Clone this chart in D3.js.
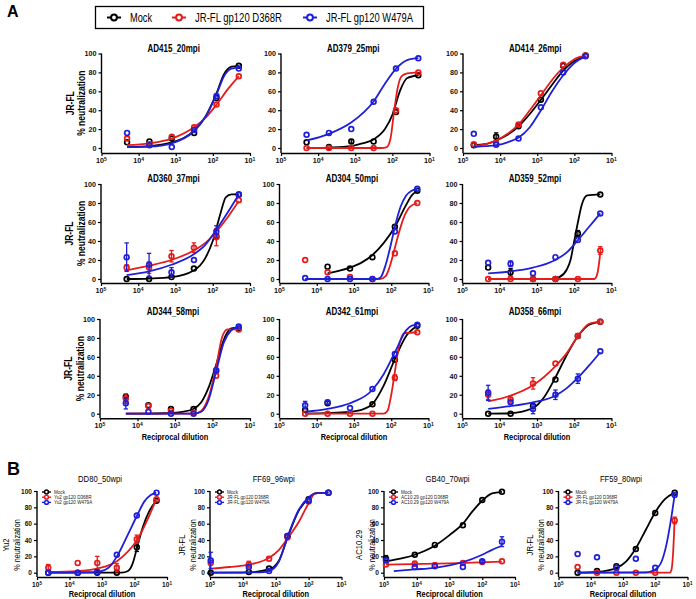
<!DOCTYPE html>
<html><head><meta charset="utf-8">
<script src="https://cdn.jsdelivr.net/npm/d3@7"></script>
<style>body{margin:0;background:#fff}svg{display:block}text{font-family:"Liberation Sans",Arial,sans-serif}</style>
</head><body><svg id="c" width="696" height="599"></svg>
<script>
// ---------- data ----------
const legendNamesA = ["Mock", "JR-FL gp120 D368R", "JR-FL gp120 W479A"];
const seriesColors = ["#000000", "#e51c1c", "#1f1fd8"];
const xTickValues = [1e5, 1e4, 1e3, 1e2, 1e1];
const yTickValues = [0, 20, 40, 60, 80, 100];
const xAxisTitle = "Reciprocal dilution";

const dosesA = [20480, 5120, 1280, 320, 80, 20];
const dosesAD414 = [51200, 12800, 3200, 800, 200, 50];
const dosesDD80 = [45000, 5600, 1400, 350, 85, 21];
const dosesFF69 = [95000, 6600, 1600, 440, 100, 25];
const dosesGB40 = [87000, 11500, 2800, 390, 100, 25];
const dosesFF59 = [25600, 6400, 1600, 400, 100, 25];

// AD415_20mpi
const ad415Mock = [6, 7, 10, 16, 53, 87];
const ad415D368R = [10, 4, 12, 22, 46, 76];
const ad415W479A = [16, 3, 1, 19, 55, 84];
const ad415MockFit = [[4.31,1],[3.71,2],[3.11,6],[2.81,10],[2.51,18],[2.2,33],[1.9,58],[1.7,78],[1.5,86],[1.3,87]];
const ad415D368RFit = [[4.31,3],[3.71,5],[3.11,10],[2.51,22],[2.2,32],[1.9,46],[1.6,62],[1.3,76]];
const ad415W479AFit = [[4.31,1],[3.71,1.5],[3.11,5],[2.51,18],[2.2,33],[1.9,57],[1.7,76],[1.5,84],[1.3,85]];
// AD379_25mpi
const ad379Mock = [6, 1, 7, 7, 38, 77];
const ad379MockErr = [0, 0, 2, 0, 0, 0];
const ad379D368R = [0, 0, 0, 0, 40, 80];
const ad379W479A = [14, 16, 20, 49, 84, 95];
const ad379MockFit = [[4.31,0],[3.71,0.5],[3.11,2],[2.8,5],[2.51,9],[2.2,20],[2.0,35],[1.8,60],[1.6,74],[1.3,77]];
const ad379D368RFit = [[4.31,0],[2.3,0],[2.15,1],[2.05,10],[1.95,40],[1.85,65],[1.75,76],[1.6,79],[1.3,80]];
const ad379W479AFit = [[4.31,8],[3.71,15],[3.11,27],[2.51,49],[2.2,68],[1.9,84],[1.6,93],[1.3,95]];
// AD414_26mpi
const ad414Mock = [3, 12, 23, 51, 87, 98];
const ad414MockErr = [0, 4, 0, 0, 0, 0];
const ad414D368R = [4, 5, 25, 58, 88, 98];
const ad414W479A = [15, 3.5, 10, 43, 80, 97];
const ad414MockFit = [[4.71,3],[4.4,4],[4.1,8],[3.8,14],[3.5,23],[3.2,36],[2.9,51],[2.6,67],[2.3,82],[2.0,92],[1.7,97]];
const ad414D368RFit = [[4.71,2],[4.4,4],[4.1,8],[3.8,15],[3.5,25],[3.2,40],[2.9,56],[2.6,72],[2.3,85],[2.0,94],[1.7,98]];
const ad414W479AFit = [[4.71,1],[4.4,2],[4.1,3],[3.8,6],[3.5,11],[3.2,22],[2.9,40],[2.6,60],[2.3,77],[2.0,90],[1.7,97]];
// AD360_37mpi
const ad360Mock = [0, 0, 2, 11, 45, 89];
const ad360D368R = [12, 12, 24, 33, 44, 83];
const ad360D368RErr = [3, 6, 6, 5, 9, 0];
const ad360W479A = [23, 15, 7, 20, 50, 89];
const ad360W479AErr = [15, 12, 5, 0, 6, 0];
const ad360MockFit = [[4.31,0],[3.71,0.5],[3.11,2],[2.51,9],[2.2,22],[2.0,40],[1.8,68],[1.65,86],[1.5,89],[1.3,89]];
const ad360D368RFit = [[4.31,9],[3.71,14],[3.11,20],[2.51,30],[2.2,38],[1.9,50],[1.6,65],[1.3,82]];
const ad360W479AFit = [[4.31,4],[3.71,8],[3.11,15],[2.51,26],[2.2,36],[1.9,52],[1.6,70],[1.3,89]];
// AD304_50mpi
const ad304Mock = [null, 13, 11, 23, 55, 93];
const ad304D368R = [20, 7, 2, 0, 27, 80];
const ad304W479A = [1, 0, 0, 0, 50, 95];
const ad304MockFit = [[3.71,6],[3.11,12],[2.81,17],[2.51,25],[2.2,38],[1.9,55],[1.6,78],[1.45,88],[1.3,93]];
const ad304D368RFit = [[4.31,0],[2.3,0],[2.15,3],[2.05,12],[1.94,27],[1.8,48],[1.65,66],[1.5,76],[1.3,80]];
const ad304W479AFit = [[4.31,0],[2.4,0],[2.28,2],[2.15,15],[2.0,38],[1.92,52],[1.75,76],[1.6,88],[1.45,93],[1.3,95]];
// AD359_52mpi
const ad359Mock = [12, 7, 0, 0, 48, 89];
const ad359MockErr = [0, 4, 0, 0, 3, 0];
const ad359D368R = [0, 0, 0, 0, 0, 30];
const ad359D368RErr = [0, 0, 0, 0, 0, 4];
const ad359W479A = [17, 16, 6, 23, 41, 69];
const ad359W479AErr = [0, 3, 0, 0, 0, 0];
const ad359MockFit = [[4.31,0],[2.6,0],[2.4,2],[2.2,10],[2.1,20],[2.0,40],[1.9,60],[1.8,78],[1.65,88],[1.3,89]];
const ad359D368RFit = [[4.31,0],[1.46,0],[1.4,3],[1.35,12],[1.3,28]];
const ad359W479AFit = [[4.31,6],[3.71,8],[3.11,12],[2.51,20],[2.2,28],[1.9,41],[1.6,55],[1.3,69]];
// AD344_58mpi
const ad344Mock = [18, 9, 5, 5, 45, 90];
const ad344D368R = [16, 8, 3, 1, 40, 89];
const ad344D368RErr = [5, 0, 0, 0, 0, 0];
const ad344W479A = [11, 2, 0, 0, 46, 92];
const ad344W479AErr = [6, 0, 0, 0, 0, 0];
const ad344MockFit = [[4.31,0],[3.3,0.5],[2.8,2],[2.51,5],[2.3,12],[2.1,28],[1.9,52],[1.7,78],[1.5,90],[1.3,91]];
const ad344D368RFit = [[4.31,0],[2.5,0],[2.3,3],[2.1,18],[1.9,50],[1.75,80],[1.6,89],[1.3,89]];
const ad344W479AFit = [[4.31,0],[2.5,0],[2.3,2],[2.1,15],[1.9,45],[1.7,75],[1.5,88],[1.3,92]];
// AD342_61mpi
const ad342Mock = [4, 11, null, 10, 57, 93];
const ad342D368R = [0, 0, 0, 0, 38, 86];
const ad342D368RErr = [0, 0, 0, 0, 3, 0];
const ad342W479A = [9, 12, 6, 26, 63, 94];
const ad342W479AErr = [4, 2, 0, 0, 0, 0];
const ad342MockFit = [[4.31,0],[3.11,2],[2.8,4],[2.51,10],[2.2,30],[1.9,58],[1.6,82],[1.3,93]];
const ad342D368RFit = [[4.31,0],[2.2,0],[2.1,3],[2.0,20],[1.9,45],[1.8,70],[1.65,85],[1.3,86]];
const ad342W479AFit = [[4.31,2],[3.71,5],[3.11,11],[2.51,25],[2.2,42],[1.9,65],[1.6,88],[1.45,93],[1.3,94]];
// AD358_66mpi
const ad358Mock = [0, 0, 8, 36, 82, 97];
const ad358D368R = [20, 15, 32, 53, 82, 97];
const ad358D368RErr = [5, 4, 6, 0, 0, 0];
const ad358W479A = [22, 12, 5, 20, 37, 66];
const ad358W479AErr = [8, 0, 5, 5, 5, 0];
const ad358MockFit = [[4.31,0],[3.71,0.5],[3.11,6],[2.8,18],[2.51,38],[2.2,62],[1.9,82],[1.6,94],[1.3,97]];
const ad358D368RFit = [[4.31,13],[3.71,19],[3.11,30],[2.51,50],[2.2,64],[1.9,82],[1.6,95],[1.3,97]];
const ad358W479AFit = [[4.31,5],[3.71,8],[3.11,12],[2.51,19],[2.2,27],[1.9,38],[1.6,51],[1.3,65]];
// DD80_50wpi
const dd80Mock = [0, 0, 0, 0, 31, 88];
const dd80MockErr = [0, 0, 0, 0, 5, 0];
const dd80D368R = [6, 12, 12, 6, 41, 90];
const dd80D368RErr = [4, 0, 8, 5, 5, 0];
const dd80W479A = [0, 0, 1, 22, 70, 98];
const dd80MockFit = [[4.65,0],[2.4,0],[2.2,2],[2.05,12],[1.92,31],[1.75,55],[1.55,75],[1.33,88]];
const dd80D368RFit = [[4.65,1],[3.75,2],[3.15,5],[2.54,14],[2.2,26],[1.92,40],[1.6,65],[1.33,90]];
const dd80W479AFit = [[4.65,0],[3.15,1],[2.8,6],[2.54,20],[2.2,47],[1.92,70],[1.7,87],[1.5,95],[1.33,98]];
// FF69_96wpi
const ff69Mock = [0, 1, 5, 45, 90, 98];
const ff69D368R = [12, 10, 17, 43, 87, 98];
const ff69D368RErr = [0, 4, 0, 0, 0, 0];
const ff69W479A = [15, 7, 2, 45, 88, 98];
const ff69W479AErr = [10, 0, 0, 0, 0, 0];
const ff69MockFit = [[4.98,0],[3.82,0.5],[3.21,4],[2.9,15],[2.64,43],[2.3,76],[2.0,91],[1.8,97],[1.4,98]];
const ff69D368RFit = [[4.98,5],[4.4,7],[3.82,10],[3.21,18],[2.9,28],[2.64,42],[2.3,62],[2.0,85],[1.8,97],[1.4,98]];
const ff69W479AFit = [[4.98,0],[3.5,0.5],[3.21,2],[2.9,14],[2.64,44],[2.3,77],[2.0,92],[1.8,97],[1.4,98]];
// GB40_70wpi
const gb40Mock = [17, 22, 34, 58, 89, 99];
const gb40MockErr = [4, 0, 0, 0, 0, 0];
const gb40D368R = [10, 11, 9, 12, 13, 14];
const gb40D368RErr = [0, 3, 3, 0, 0, 0];
const gb40W479A = [15, 7, 8, 7, 14, 38];
const gb40W479AErr = [0, 0, 0, 0, 2, 6];
const gb40MockFit = [[4.94,14],[4.4,18],[4.06,22],[3.45,33],[3.0,46],[2.59,60],[2.3,75],[1.98,89],[1.7,97],[1.4,99]];
const gb40D368RFit = [[4.94,10],[3.0,11.5],[1.4,13.5]];
const gb40W479AFit = [[4.7,2],[4.06,4],[3.45,6],[3.0,9],[2.59,13],[2.0,22],[1.7,28],[1.4,33]];
// FF59_80wpi
const ff59Mock = [0, 2, 8, 29, 73, 98];
const ff59D368R = [7, 0, 0, 0, 0, 64];
const ff59D368RErr = [0, 0, 0, 0, 0, 4];
const ff59W479A = [23, 19, 6, 17, 6, 95];
const ff59MockFit = [[4.41,0],[3.8,1],[3.2,6],[2.9,14],[2.6,30],[2.3,52],[2.0,74],[1.7,90],[1.4,98]];
const ff59D368RFit = [[4.41,0],[1.55,0],[1.5,3],[1.45,22],[1.4,64]];
const ff59W479AFit = [[4.41,0],[2.3,0.5],[2.0,4],[1.8,14],[1.65,35],[1.5,68],[1.4,95]];

// ---------- layout ----------
const svg = d3.select("#c");
const FONT = '"Liberation Sans", Arial, sans-serif';

function narrow(sel, f) {
  sel.each(function () {
    const w = this.getComputedTextLength();
    this.setAttribute("textLength", w * f);
    this.setAttribute("lengthAdjust", "spacingAndGlyphs");
  });
}

const S = (vals, err, fit) => ({ vals, err, fit });
const panels = [
  { t: "AD415_20mpi", d: dosesA, s: [S(ad415Mock, null, ad415MockFit), S(ad415D368R, null, ad415D368RFit), S(ad415W479A, null, ad415W479AFit)], x0: 101.5, x1: 250, r: 0, yl: ["JR-FL", "% neutralization"] },
  { t: "AD379_25mpi", d: dosesA, s: [S(ad379Mock, ad379MockErr, ad379MockFit), S(ad379D368R, null, ad379D368RFit), S(ad379W479A, null, ad379W479AFit)], x0: 281, x1: 429.5, r: 0 },
  { t: "AD414_26mpi", d: dosesAD414, s: [S(ad414Mock, ad414MockErr, ad414MockFit), S(ad414D368R, null, ad414D368RFit), S(ad414W479A, null, ad414W479AFit)], x0: 463, x1: 611.5, r: 0 },
  { t: "AD360_37mpi", d: dosesA, s: [S(ad360Mock, null, ad360MockFit), S(ad360D368R, ad360D368RErr, ad360D368RFit), S(ad360W479A, ad360W479AErr, ad360W479AFit)], x0: 101, x1: 250, r: 1, yl: ["JR-FL", "% neutralization"] },
  { t: "AD304_50mpi", d: dosesA, s: [S(ad304Mock, null, ad304MockFit), S(ad304D368R, null, ad304D368RFit), S(ad304W479A, null, ad304W479AFit)], x0: 279.5, x1: 428.5, r: 1 },
  { t: "AD359_52mpi", d: dosesA, s: [S(ad359Mock, ad359MockErr, ad359MockFit), S(ad359D368R, ad359D368RErr, ad359D368RFit), S(ad359W479A, ad359W479AErr, ad359W479AFit)], x0: 462.5, x1: 611.5, r: 1 },
  { t: "AD344_58mpi", d: dosesA, s: [S(ad344Mock, null, ad344MockFit), S(ad344D368R, ad344D368RErr, ad344D368RFit), S(ad344W479A, ad344W479AErr, ad344W479AFit)], x0: 100, x1: 250, r: 2, yl: ["JR-FL", "% neutralization"], xl: true },
  { t: "AD342_61mpi", d: dosesA, s: [S(ad342Mock, null, ad342MockFit), S(ad342D368R, ad342D368RErr, ad342D368RFit), S(ad342W479A, ad342W479AErr, ad342W479AFit)], x0: 279.5, x1: 428.5, r: 2, xl: true },
  { t: "AD358_66mpi", d: dosesA, s: [S(ad358Mock, null, ad358MockFit), S(ad358D368R, ad358D368RErr, ad358D368RFit), S(ad358W479A, ad358W479AErr, ad358W479AFit)], x0: 462.5, x1: 611.5, r: 2, xl: true },
  { t: "DD80_50wpi", d: dosesDD80, s: [S(dd80Mock, dd80MockErr, dd80MockFit), S(dd80D368R, dd80D368RErr, dd80D368RFit), S(dd80W479A, null, dd80W479AFit)], x0: 37, x1: 167, r: 3, yl: ["Yu2", "% neutralization"], xl: true, lg: ["Mock", "Yu2 gp120 D368R", "Yu2 gp120 W479A"], ylx: [5.5, 16.5] },
  { t: "FF69_96wpi", d: dosesFF69, s: [S(ff69Mock, null, ff69MockFit), S(ff69D368R, ff69D368RErr, ff69D368RFit), S(ff69W479A, ff69W479AErr, ff69W479AFit)], x0: 210, x1: 341.5, r: 3, yl: ["JR-FL", "% neutralization"], xl: true, lg: ["Mock", "JR-FL gp120 D368R", "JR-FL gp120 W479A"], ylx: [181.5, 192] },
  { t: "GB40_70wpi", d: dosesGB40, s: [S(gb40Mock, gb40MockErr, gb40MockFit), S(gb40D368R, gb40D368RErr, gb40D368RFit), S(gb40W479A, gb40W479AErr, gb40W479AFit)], x0: 384, x1: 515, r: 3, yl: ["AC10.29", "% neutralization"], xl: true, lg: ["Mock", "AC10.29 gp120 D368R", "AC10.29 gp120 W479A"], ylx: [358.5, 371] },
  { t: "FF59_80wpi", d: dosesFF59, s: [S(ff59Mock, null, ff59MockFit), S(ff59D368R, ff59D368RErr, ff59D368RFit), S(ff59W479A, null, ff59W479AFit)], x0: 558.5, x1: 687.5, r: 3, yl: ["JR-FL", "% neutralization"], xl: true, lg: ["Mock", "JR-FL gp120 D368R", "JR-FL gp120 W479A"], ylx: [529.5, 540] },
];
// rows: [y(100), y(0), x-axis line, title center]
const rows = [
  { top: 53.5, bot: 148, ax: 153, ty: 48.5 },
  { top: 184, bot: 279, ax: 283, ty: 178.5 },
  { top: 319, bot: 413.7, ax: 418.3, ty: 311.5 },
  { top: 491, bot: 572.7, ax: 577, ty: 478.3 },
];

function drawPanel(p) {
  const R = rows[p.r];
  const isB = p.r === 3;
  const g = svg.append("g");
  const x = d3.scaleLog().domain([1e5, 1e1]).range([p.x0, p.x1]);
  const y = d3.scaleLinear().domain([0, 100]).range([R.bot, R.top]);
  const tickFs = isB ? 6.6 : 7.2;

  // y axis
  const ya = g.append("g").attr("transform", `translate(${p.x0},0)`)
    .call(d3.axisLeft(y).tickValues(yTickValues).tickSize(3).tickSizeOuter(0).tickPadding(2));
  ya.select(".domain").remove();
  ya.selectAll("line").attr("stroke", "#000").attr("stroke-width", 1.2);
  ya.selectAll("text").attr("font-family", FONT).attr("font-size", tickFs).attr("font-weight", "bold").attr("fill", "#111");
  g.append("line").attr("x1", p.x0).attr("x2", p.x0).attr("y1", R.top).attr("y2", R.ax)
    .attr("stroke", "#000").attr("stroke-width", 1.4);

  // x axis
  const xa = g.append("g").attr("transform", `translate(0,${R.ax})`)
    .call(d3.axisBottom(x).tickValues(xTickValues).tickSize(3).tickSizeOuter(0).tickFormat(() => ""));
  xa.select(".domain").attr("stroke", "#000").attr("stroke-width", 1.4);
  xa.selectAll("line").attr("stroke", "#000").attr("stroke-width", 1.2);
  xTickValues.forEach(v => {
    const t = g.append("text").attr("x", x(v)).attr("y", R.ax + 10).attr("text-anchor", "middle")
      .attr("font-family", FONT).attr("font-size", tickFs).attr("font-weight", "bold").attr("fill", "#111");
    t.append("tspan").text("10");
    t.append("tspan").attr("dy", -2.5).attr("font-size", tickFs * 0.7).text(Math.round(Math.log10(v)));
  });

  // title
  const tt = g.append("text").attr("x", (p.x0 + p.x1) / 2 - 2).attr("y", R.ty + 3.4).attr("text-anchor", "middle")
    .attr("font-family", FONT).attr("font-size", isB ? 9 : 10).attr("font-weight", isB ? "normal" : "bold").text(p.t);
  narrow(tt, isB ? 0.85 : 0.8);

  // y labels
  if (p.yl) {
    const cy = isB ? 545 : (R.top + R.ax) / 2;
    const lx = p.ylx || [p.x0 - 31.5, p.x0 - 20];
    const a = g.append("text").attr("transform", `translate(${lx[0] + 3.5},${cy}) rotate(-90)`).attr("text-anchor", "middle")
      .attr("font-family", FONT).attr("font-size", isB ? 9 : 10).attr("font-weight", isB ? "normal" : "bold").text(p.yl[0]);
    const b = g.append("text").attr("transform", `translate(${lx[1] + 3.5},${cy}) rotate(-90)`).attr("text-anchor", "middle")
      .attr("font-family", FONT).attr("font-size", isB ? 8.5 : 10).attr("font-weight", isB ? "normal" : "bold").text(p.yl[1]);
    narrow(a, 0.85); narrow(b, 0.85);
  }
  // x label
  if (p.xl) {
    const xt = g.append("text").attr("x", (p.x0 + p.x1) / 2).attr("y", R.ax + (isB ? 20 : 22))
      .attr("text-anchor", "middle").attr("font-family", FONT).attr("font-size", 8.6).attr("font-weight", "bold").text(xAxisTitle);
    narrow(xt, 0.86);
  }

  const line = d3.line().x(d => x(Math.pow(10, d[0]))).y(d => y(d[1])).curve(d3.curveMonotoneX);
  p.s.forEach((s, i) => {
    const col = seriesColors[i];
    g.append("path").attr("d", line(s.fit)).attr("fill", "none").attr("stroke", col).attr("stroke-width", 1.8);
    s.vals.forEach((v, j) => {
      if (v === null) return;
      const cx = x(p.d[j]);
      const e = s.err ? s.err[j] : 0;
      if (e > 0) {
        g.append("line").attr("x1", cx).attr("x2", cx).attr("y1", y(v - e)).attr("y2", y(v + e)).attr("stroke", col).attr("stroke-width", 1.3);
        [v - e, v + e].forEach(w => g.append("line").attr("x1", cx - 2.2).attr("x2", cx + 2.2).attr("y1", y(w)).attr("y2", y(w)).attr("stroke", col).attr("stroke-width", 1.3));
      }
      g.append("circle").attr("cx", cx).attr("cy", y(v)).attr("r", 2.4).attr("fill", "none").attr("stroke", col).attr("stroke-width", 1.7);
    });
  });

  // in-panel legend (B)
  if (p.lg) {
    p.lg.forEach((name, i) => {
      const ly = R.top + 1 + i * 5.2;
      const lx = p.x0 + 5;
      g.append("line").attr("x1", lx).attr("x2", lx + 9).attr("y1", ly).attr("y2", ly).attr("stroke", seriesColors[i]).attr("stroke-width", 1.4);
      g.append("circle").attr("cx", lx + 4.5).attr("cy", ly).attr("r", 1.9).attr("fill", "#fff").attr("stroke", seriesColors[i]).attr("stroke-width", 1.5);
      const t = g.append("text").attr("x", lx + 12).attr("y", ly + 1.9).attr("font-family", FONT).attr("font-size", 5.4).attr("fill", "#222").text(name);
      narrow(t, 0.85);
    });
  }
}
panels.forEach(drawPanel);

// section letters
svg.append("text").attr("x", 7).attr("y", 17).attr("font-family", FONT).attr("font-size", 16).attr("font-weight", "bold").text("A");
svg.append("text").attr("x", 7).attr("y", 475).attr("font-family", FONT).attr("font-size", 18).attr("font-weight", "bold").text("B");

// top legend
svg.append("rect").attr("x", 95.5).attr("y", 6.5).attr("width", 328).attr("height", 22).attr("fill", "none").attr("stroke", "#000").attr("stroke-width", 1.3);
const legendX = [107, 172, 303];
const legendTextWidths = [22, 87, 87];
legendNamesA.forEach((name, i) => {
  const lx = legendX[i];
  svg.append("line").attr("x1", lx).attr("x2", lx + 14).attr("y1", 17.5).attr("y2", 17.5).attr("stroke", seriesColors[i]).attr("stroke-width", 2);
  svg.append("circle").attr("cx", lx + 7).attr("cy", 17.5).attr("r", 2.9).attr("fill", "#fff").attr("stroke", seriesColors[i]).attr("stroke-width", 2);
  svg.append("text").attr("x", lx + 23).attr("y", 22).attr("font-family", FONT).attr("font-size", 13)
    .attr("textLength", legendTextWidths[i]).attr("lengthAdjust", "spacingAndGlyphs").text(name);
});
</script></body></html>
